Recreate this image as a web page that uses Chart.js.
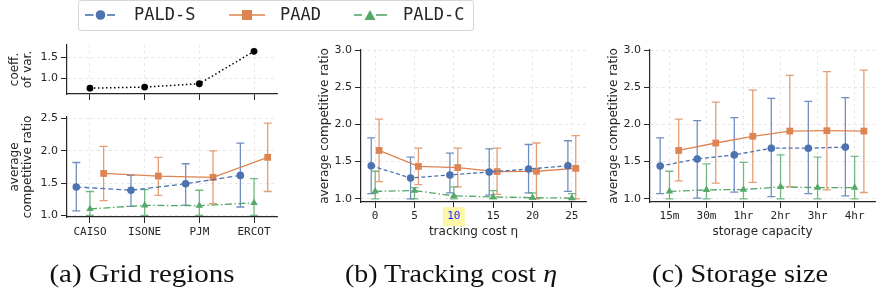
<!DOCTYPE html>
<html>
<head>
<meta charset="utf-8">
<script src="https://cdn.jsdelivr.net/npm/chart.js@4.4.1/dist/chart.umd.min.js"></script>
<style>
  body { margin: 0; background: #fff; width: 880px; height: 298px; overflow: hidden; position: relative; }
  canvas { position: absolute; left: 0; top: 0; }
  .legend { position: absolute; left: 78px; top: 0; width: 394px; height: 29px; border: 1px solid #d6d6d6; border-radius: 3px; }
  .handle { position: absolute; top: 0; }
  .lgtext { position: absolute; top: -1px; line-height: 30px; font-family: 'DejaVu Sans Mono', monospace; font-size: 17px; color: #262626; white-space: nowrap; }
  .caption { position: absolute; top: 261px; line-height: 25px; font-family: 'Liberation Serif', 'Times New Roman', serif; font-size: 25px; color: #111;
             white-space: nowrap; transform-origin: 50% 50%; }
</style>
</head>
<body>
<canvas id="cvTop" width="880" height="298"></canvas>
<canvas id="cvA" width="880" height="298"></canvas>
<canvas id="cvB" width="880" height="298"></canvas>
<canvas id="cvC" width="880" height="298"></canvas>

<div class="legend"></div>
<svg class="handle" style="left:84px" width="34" height="30">
  <line x1="1" y1="15" x2="9.5" y2="15" stroke="#4c72b0" stroke-width="1.6"/>
  <line x1="23" y1="15" x2="31" y2="15" stroke="#4c72b0" stroke-width="1.6"/>
  <circle cx="16.5" cy="15" r="4.8" fill="#4c72b0"/>
</svg>
<div class="lgtext" style="left:134px">PALD-S</div>
<svg class="handle" style="left:229px" width="37" height="30">
  <line x1="0" y1="15" x2="36" y2="15" stroke="#dd8452" stroke-width="1.6"/>
  <rect x="13" y="10" width="10" height="10" fill="#dd8452"/>
</svg>
<div class="lgtext" style="left:280px">PAAD</div>
<svg class="handle" style="left:354px" width="34" height="30">
  <line x1="0" y1="15" x2="8" y2="15" stroke="#55a868" stroke-width="1.6"/>
  <line x1="22" y1="15" x2="33" y2="15" stroke="#55a868" stroke-width="1.6"/>
  <polygon points="10.5,20 21.5,20 16,10" fill="#55a868"/>
</svg>
<div class="lgtext" style="left:403px">PALD-C</div>

<div class="caption" data-w="185" style="left:142px">(a) Grid regions</div>
<div class="caption" data-w="212" style="left:451px">(b) Tracking cost <i>η</i></div>
<div class="caption" data-w="176" style="left:740px">(c) Storage size</div>

<script>
// ---- data ----
const regions = ['CAISO', 'ISONE', 'PJM', 'ERCOT'];
const coeffVar = [0.77, 0.795, 0.875, 1.65];
const coeffTicks = [1.0, 1.5];

const regS = [1.44, 1.39, 1.49, 1.62];
const regSLo = [1.07, 1.14, 1.16, 1.13];
const regSHi = [1.82, 1.62, 1.80, 2.12];
const regA = [1.65, 1.61, 1.59, 1.90];
const regALo = [1.23, 1.31, 1.18, 1.37];
const regAHi = [2.07, 1.90, 2.00, 2.43];
const regC = [1.10, 1.155, 1.15, 1.195];
const regCLo = [1.0, 1.0, 1.0, 1.0];
const regCHi = [1.37, 1.40, 1.39, 1.57];
const regTicks = [1.0, 1.5, 2.0, 2.5];

const etas = ['0', '5', '10', '15', '20', '25'];
const etaHighlight = 2;
const etaS = [1.445, 1.28, 1.32, 1.36, 1.40, 1.445];
const etaSLo = [1.07, 1.0, 1.08, 1.05, 1.08, 1.10];
const etaSHi = [1.82, 1.56, 1.615, 1.67, 1.73, 1.78];
const etaA = [1.65, 1.435, 1.42, 1.365, 1.37, 1.41];
const etaALo = [1.23, 1.19, 1.16, 1.06, 1.0, 1.0];
const etaAHi = [2.07, 1.68, 1.68, 1.68, 1.75, 1.85];
const etaC = [1.10, 1.11, 1.04, 1.025, 1.015, 1.01];
const etaCLo = [1.0, 1.0, 1.0, 1.0, 1.0, 1.0];
const etaCHi = [1.37, 1.15, 1.16, 1.11, 1.08, 1.07];

const caps = ['15m', '30m', '1hr', '2hr', '3hr', '4hr'];
const capS = [1.44, 1.535, 1.59, 1.68, 1.68, 1.695];
const capSLo = [1.07, 1.01, 1.09, 1.03, 1.07, 1.04];
const capSHi = [1.82, 2.05, 2.09, 2.35, 2.31, 2.36];
const capA = [1.65, 1.75, 1.84, 1.91, 1.915, 1.91];
const capALo = [1.24, 1.21, 1.22, 1.16, 1.12, 1.085];
const capAHi = [2.07, 2.30, 2.46, 2.66, 2.71, 2.73];
const capC = [1.10, 1.12, 1.125, 1.16, 1.15, 1.15];
const capCLo = [1.0, 1.0, 1.0, 1.0, 1.0, 1.0];
const capCHi = [1.37, 1.47, 1.49, 1.59, 1.56, 1.57];
const ratioTicks = [1.0, 1.5, 2.0, 2.5, 3.0];

const BLUE = '#4c72b0', ORANGE = '#dd8452', GREEN = '#55a868', INK = '#262626';

// stretch each caption to the width it has in the figure
document.querySelectorAll('.caption').forEach(el => {
  const w = el.getBoundingClientRect().width;
  el.style.transform = `translateX(-50%) scaleX(${(+el.dataset.w / w).toFixed(3)})`;
});

// error bars drawn through the chart's own scales
const errorBars = {
  id: 'errorBars',
  beforeDatasetsDraw(chart) {
    const ctx = chart.ctx;
    const y = chart.scales.y;
    chart.data.datasets.forEach((ds, di) => {
      if (!ds.lo) return;
      const meta = chart.getDatasetMeta(di);
      ctx.save();
      ctx.strokeStyle = ds.borderColor;
      ctx.globalAlpha = 0.8;
      ctx.lineWidth = 1.3;
      meta.data.forEach((pt, i) => {
        const x = pt.x, y0 = y.getPixelForValue(ds.lo[i]), y1 = y.getPixelForValue(ds.hi[i]);
        ctx.beginPath();
        ctx.moveTo(x, y0); ctx.lineTo(x, y1);
        ctx.moveTo(x - 4, y0); ctx.lineTo(x + 4, y0);
        ctx.moveTo(x - 4, y1); ctx.lineTo(x + 4, y1);
        ctx.stroke();
      });
      ctx.restore();
    });
  }
};

function series(color, vals, lo, hi, shift, dash, point, r) {
  return {
    data: vals.map((v, i) => ({ x: i + shift, y: v })),
    lo, hi,
    borderColor: color, backgroundColor: color, borderWidth: 1.3, borderDash: dash,
    pointStyle: point, pointRadius: r, pointBorderWidth: 0, pointBackgroundColor: color,
    fill: false, tension: 0
  };
}

// o: labels, xmin, xmax, xh, yw, ymin, ymax, yticks, ytitle, xtitle, tpad, lpad
function makeChart(id, datasets, o) {
  return new Chart(document.getElementById(id), {
    type: 'line',
    data: { datasets },
    plugins: [errorBars],
    options: {
      responsive: false, animation: false, events: [],
      layout: { padding: o.pad },
      plugins: { legend: { display: false }, tooltip: { enabled: false } },
      scales: {
        x: {
          type: 'linear', min: o.xmin, max: o.xmax,
          afterBuildTicks: s => { s.ticks = o.labels.map((_, i) => ({ value: i })); },
          afterFit: s => { s.height = o.xh; },
          grid: { color: '#e2e2e2', lineWidth: 0.8, tickColor: INK, tickLength: 6, tickWidth: 1 },
          border: { color: INK, width: 1.2, dash: [3, 3] },
          ticks: {
            autoSkip: false, maxRotation: 0, padding: o.lpad,
            callback: (v, i) => o.showX ? o.labels[i] : '',
            font: { family: 'DejaVu Sans Mono', size: 11 },
            color: c => (o.hl === c.index ? '#1f1fff' : INK),
            showLabelBackdrop: c => o.hl === c.index,
            backdropColor: '#fbf7a6',
            backdropPadding: { x: 4.4, y: 2.9 }
          },
          title: o.xtitle ? { display: true, text: o.xtitle, color: INK, padding: 0,
                              font: { family: 'DejaVu Sans', size: 12 } } : { display: false }
        },
        y: {
          min: o.ymin, max: o.ymax,
          afterBuildTicks: s => { s.ticks = o.yticks.map(v => ({ value: v })); },
          afterFit: s => { s.width = o.yw; },
          grid: { color: '#e2e2e2', lineWidth: 0.8, tickColor: INK, tickLength: 6, tickWidth: 1 },
          border: { color: INK, width: 1.2, dash: [3, 3] },
          ticks: { padding: 3, color: INK, font: { family: 'DejaVu Sans', size: 11 }, callback: v => v.toFixed(1) },
          title: { display: true, text: o.ytitle, color: INK, padding: { top: o.tpad, bottom: 0 },
                   font: { family: 'DejaVu Sans', size: 12, lineHeight: 1.1 } }
        }
      }
    }
  });
}

// (a) top: coefficient of variation
makeChart('cvTop', [{
  data: coeffVar.map((v, i) => ({ x: i, y: v })),
  borderColor: '#000', backgroundColor: '#000', borderWidth: 1.5, borderDash: [1.5, 2.5],
  pointRadius: 3.4, pointBorderWidth: 0, pointBackgroundColor: '#000', fill: false
}], {
  labels: regions, showX: false, xmin: -0.42, xmax: 3.42, xh: 8, yw: 65,
  ymin: 0.63, ymax: 1.80, yticks: coeffTicks, ytitle: ['coeff.', 'of var.'], tpad: 6.4, lpad: 3,
  pad: { left: 2, right: 603, top: 45, bottom: 196 }
});

// (a) bottom: grid regions
makeChart('cvA', [
  series(BLUE, regS, regSLo, regSHi, -0.25, [5, 3], 'circle', 3.8),
  series(ORANGE, regA, regALo, regAHi, 0.25, [], 'rect', 4.8),
  series(GREEN, regC, regCLo, regCHi, 0, [7, 2.5, 1.5, 2.5], 'triangle', 4.3)
], {
  labels: regions, showX: true, xmin: -0.42, xmax: 3.42, xh: 25, yw: 65,
  ymin: 0.975, ymax: 2.525, yticks: regTicks, ytitle: ['average', 'competitive ratio'], tpad: 6.4, lpad: 3,
  pad: { left: 2, right: 603, top: 117, bottom: 56 }
});

// (b) tracking cost
makeChart('cvB', [
  series(BLUE, etaS, etaSLo, etaSHi, -0.1, [4, 2.5], 'circle', 3.8),
  series(ORANGE, etaA, etaALo, etaAHi, 0.1, [], 'rect', 4.8),
  series(GREEN, etaC, etaCLo, etaCHi, 0, [7, 2.5, 1.5, 2.5], 'triangle', 4.3)
], {
  labels: etas, showX: true, hl: etaHighlight, xmin: -0.36, xmax: 5.36, xh: 37.5, yw: 43,
  ymin: 0.957, ymax: 3.0, yticks: ratioTicks, ytitle: 'average competitive ratio', tpad: 0, lpad: 2,
  xtitle: 'tracking cost η',
  pad: { left: 318, right: 294, top: 50, bottom: 58.5 }
});

// (c) storage size
makeChart('cvC', [
  series(BLUE, capS, capSLo, capSHi, -0.25, [4, 2.5], 'circle', 3.8),
  series(ORANGE, capA, capALo, capAHi, 0.25, [], 'rect', 4.8),
  series(GREEN, capC, capCLo, capCHi, 0, [7, 2.5, 1.5, 2.5], 'triangle', 4.3)
], {
  labels: caps, showX: true, xmin: -0.525, xmax: 5.55, xh: 37.5, yw: 43,
  ymin: 0.957, ymax: 3.0, yticks: ratioTicks, ytitle: 'average competitive ratio', tpad: 0, lpad: 2,
  xtitle: 'storage capacity',
  pad: { left: 607, right: 5, top: 50, bottom: 58.5 }
});
</script>
</body>
</html>
